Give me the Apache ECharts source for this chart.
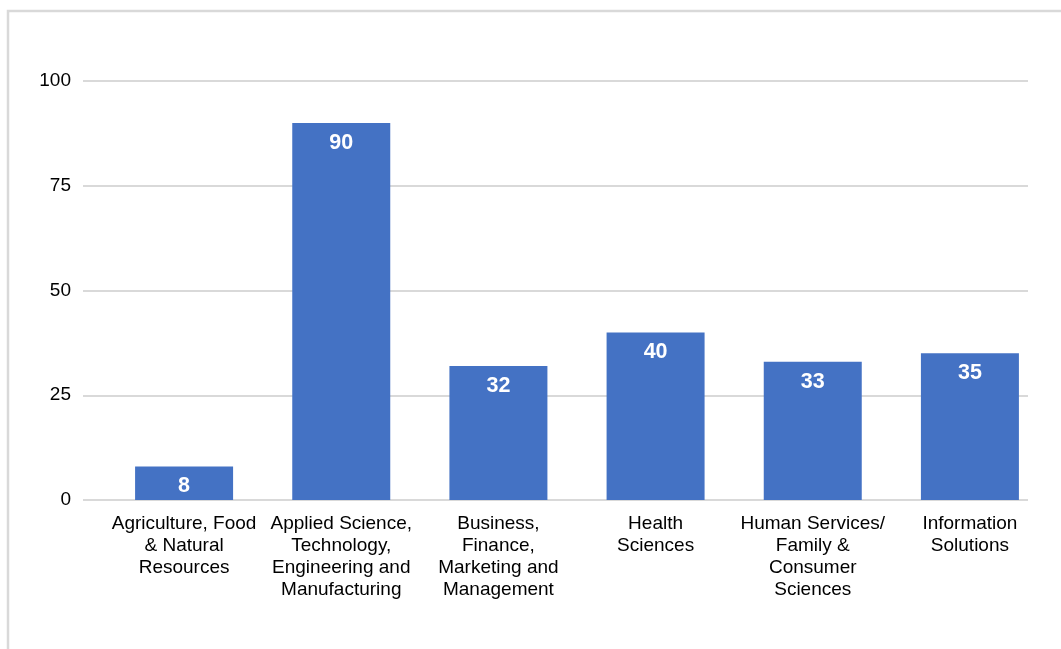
<!DOCTYPE html>
<html>
<head>
<meta charset="utf-8">
<script src="https://cdn.jsdelivr.net/npm/echarts@6/dist/echarts.min.js"></script>
<style>html,body{margin:0;padding:0;background:#fff;}#c{width:1061px;height:649px;}</style>
</head>
<body>
<div id="c"></div>
<script>
var categories = [
  "Agriculture, Food\n& Natural\nResources",
  "Applied Science,\nTechnology,\nEngineering and\nManufacturing",
  "Business,\nFinance,\nMarketing and\nManagement",
  "Health\nSciences",
  "Human Services/\nFamily &\nConsumer\nSciences",
  "Information\nSolutions"
];
var values = [8, 90, 32, 40, 33, 35];
var yTicks = [0, 25, 50, 75, 100];

var FONT = "'Liberation Sans', Arial, sans-serif";
var chart = echarts.init(document.getElementById('c'), null, {renderer: 'canvas'});
chart.setOption({
  animation: false,
  backgroundColor: '#ffffff',
  graphic: [{
    type: 'rect', silent: true, z: -10,
    shape: {x: 8, y: 11, width: 1200, height: 800},
    style: {fill: 'none', stroke: '#d9d9d9', lineWidth: 2.5}
  }],
  grid: [
    {left: 83, right: 33, top: 81, bottom: 149},
    {left: 105.5, right: 12.5, top: 81, bottom: 149}
  ],
  xAxis: [
    {gridIndex: 0, type: 'category', data: categories, show: false},
    {gridIndex: 1, type: 'category', data: categories,
     axisLine: {show: false}, axisTick: {show: false},
     axisLabel: {interval: 0, margin: 13, color: '#000', fontSize: 19, lineHeight: 22, fontFamily: FONT}}
  ],
  yAxis: [
    {gridIndex: 0, type: 'value', min: yTicks[0], max: yTicks[yTicks.length - 1], interval: 25,
     axisLine: {show: false}, axisTick: {show: false},
     axisLabel: {margin: 12, color: '#000', fontSize: 19, fontFamily: FONT, verticalAlign: 'middle', padding: [5, 0, 0, 0]},
     splitLine: {lineStyle: {color: '#d9d9d9', width: 2}}},
    {gridIndex: 1, type: 'value', min: yTicks[0], max: yTicks[yTicks.length - 1], interval: 25, show: false,
     splitLine: {show: false}}
  ],
  series: [{
    type: 'bar', xAxisIndex: 1, yAxisIndex: 1,
    data: values, barWidth: 98,
    itemStyle: {color: '#4472c4'},
    label: {show: true, position: 'insideTop', distance: 9, color: '#fff', fontWeight: 'bold', fontSize: 21.5, fontFamily: FONT}
  }]
});
</script>
</body>
</html>
